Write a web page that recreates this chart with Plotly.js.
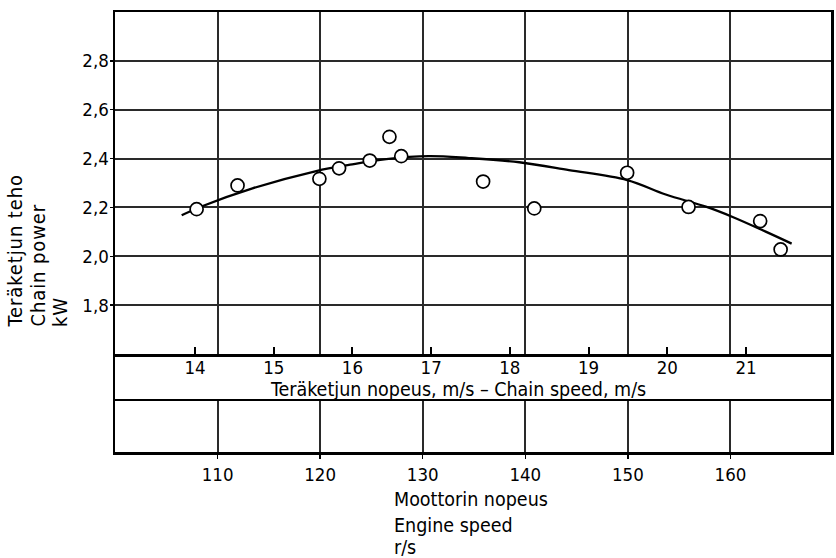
<!DOCTYPE html>
<html>
<head>
<meta charset="utf-8">
<script src="https://cdn.plot.ly/plotly-3.0.1.min.js"></script>
<style>html,body{margin:0;padding:0;background:#fff;}#chart{width:836px;height:558px;}</style>
</head>
<body>
<div id="chart"></div>
<script>
// Measured data points (chain speed m/s, chain power kW)
const pointChainSpeed = [14.02, 14.54, 15.58, 15.83, 16.22, 16.47, 16.62, 17.66, 18.31, 19.49, 20.27, 21.18, 21.44];
const pointPower      = [2.193, 2.290, 2.317, 2.360, 2.392, 2.489, 2.410, 2.306, 2.196, 2.342, 2.202, 2.144, 2.028];

// Fitted curve
const curveChainSpeed = [13.83, 14.09, 14.73, 15.54, 15.97, 16.43, 16.97, 17.48, 18.12, 18.75, 19.49, 19.98, 20.49, 20.83, 21.25, 21.58];
const curvePower      = [2.168, 2.205, 2.278, 2.349, 2.375, 2.398, 2.410, 2.402, 2.385, 2.353, 2.312, 2.253, 2.203, 2.161, 2.101, 2.052];

// Tick definitions
const powerTicks = [1.8, 2.0, 2.2, 2.4, 2.6, 2.8];
const powerTickLabels = ["1,8", "2,0", "2,2", "2,4", "2,6", "2,8"];
const chainTicks = [14, 15, 16, 17, 18, 19, 20, 21];
const engineTicks = [110, 120, 130, 140, 150, 160];

// Axis ranges
const engineRange = [100, 169.8];
const chainRange = [12.983, 22.08];
const powerRange = [1.6, 3.0];

const FONT = "DejaVu Sans Condensed, DejaVu Sans, sans-serif";
const INK = "#000";
const GRID = "#2a2a2a";
const GRID_W = 2;
const TICK_SIZE = 18.5;
const TEXT_SIZE = 19.5;

const traces = [
  {x: [], y: [], xaxis: "x2", yaxis: "y", showlegend: false},
  {x: [], y: [], xaxis: "x", yaxis: "y2", showlegend: false},
  {x: [], y: [], xaxis: "x4", yaxis: "y3", showlegend: false},
  {
    x: curveChainSpeed, y: curvePower, xaxis: "x3", yaxis: "y",
    mode: "lines", line: {color: INK, width: 2.3, shape: "spline", smoothing: 1},
    hoverinfo: "skip", showlegend: false
  },
  {
    x: pointChainSpeed, y: pointPower, xaxis: "x3", yaxis: "y",
    mode: "markers",
    marker: {symbol: "circle", size: 13, color: "#fff", line: {color: INK, width: 1.7}},
    showlegend: false
  }
];

const frame = () => ({showline: true, linecolor: INK, linewidth: 2.5, mirror: true});
const spaced = (t) => '<span style="letter-spacing:0.9px">' + t + '</span>';

const layout = {
  width: 836, height: 558,
  margin: {l: 115, r: 5, t: 12, b: 106},
  paper_bgcolor: "#fff", plot_bgcolor: "#fff",
  font: {family: FONT, size: TEXT_SIZE, color: INK},
  showlegend: false,
  // engine speed axis, bottom band
  xaxis: Object.assign({
    domain: [0, 1], anchor: "y2", range: engineRange,
    tickmode: "array", tickvals: engineTicks,
    showgrid: true, gridcolor: GRID, gridwidth: GRID_W,
    ticks: "outside", ticklen: 4, tickwidth: 1.5, tickcolor: INK,
    zeroline: false, fixedrange: true,
    tickfont: {family: FONT, size: TICK_SIZE, color: INK}
  }, frame()),
  yaxis2: Object.assign({
    domain: [0, 0.1159], anchor: "x", range: [0, 1],
    showgrid: false, showticklabels: false, ticks: "", zeroline: false, fixedrange: true
  }, frame()),
  // middle band (chain speed labels)
  xaxis4: {
    domain: [0, 1], anchor: "y3", range: engineRange,
    showgrid: false, showticklabels: false, ticks: "", showline: false, zeroline: false, fixedrange: true
  },
  yaxis3: Object.assign({
    domain: [0.1159, 0.2227], anchor: "x4", range: [0, 1],
    showgrid: false, showticklabels: false, ticks: "", zeroline: false, fixedrange: true
  }, frame()),
  // top panel, engine speed grid
  xaxis2: Object.assign({
    domain: [0, 1], anchor: "y", range: engineRange,
    tickmode: "array", tickvals: engineTicks,
    showgrid: true, gridcolor: GRID, gridwidth: GRID_W,
    showticklabels: false, ticks: "", zeroline: false, fixedrange: true
  }, frame()),
  // chain speed axis on the top panel
  xaxis3: {
    overlaying: "x2", anchor: "y", side: "bottom", range: chainRange,
    tickmode: "array", tickvals: chainTicks,
    ticks: "inside", ticklen: 7, tickwidth: 2, tickcolor: INK,
    showgrid: false, showline: false, zeroline: false, fixedrange: true,
    tickfont: {family: FONT, size: TICK_SIZE, color: INK}
  },
  yaxis: Object.assign({
    domain: [0.2227, 1], anchor: "x2", range: powerRange,
    tickmode: "array", tickvals: powerTicks, ticktext: powerTickLabels,
    showgrid: true, gridcolor: GRID, gridwidth: GRID_W,
    ticks: "outside", ticklen: 3, tickwidth: 1.5, tickcolor: INK,
    ticklabelstandoff: -3,
    zeroline: false, fixedrange: true,
    tickfont: {family: FONT, size: TICK_SIZE, color: INK}
  }, frame()),
  annotations: [
    {xref: "paper", yref: "paper", x: 0.2137, y: 0.143, xanchor: "left", yanchor: "middle",
     text: "Teräketjun nopeus, m/s – Chain speed, m/s", showarrow: false, font: {size: TEXT_SIZE}},
    {xref: "paper", yref: "paper", x: 0.3869, y: -0.109, xanchor: "left", yanchor: "middle",
     text: "Moottorin nopeus", showarrow: false, font: {size: TEXT_SIZE}},
    {xref: "paper", yref: "paper", x: 0.3869, y: -0.166, xanchor: "left", yanchor: "middle",
     text: "Engine speed", showarrow: false, font: {size: TEXT_SIZE}},
    {xref: "paper", yref: "paper", x: 0.3869, y: -0.218, xanchor: "left", yanchor: "middle",
     text: "r/s", showarrow: false, font: {size: TEXT_SIZE}},
    {xref: "paper", yref: "paper", x: -0.1397, y: 0.2795, xanchor: "center", yanchor: "bottom",
     text: spaced("Teräketjun teho"), textangle: -90, showarrow: false, font: {size: TEXT_SIZE + 0.5}},
    {xref: "paper", yref: "paper", x: -0.1089, y: 0.2795, xanchor: "center", yanchor: "bottom",
     text: spaced("Chain power"), textangle: -90, showarrow: false, font: {size: TEXT_SIZE + 0.5}},
    {xref: "paper", yref: "paper", x: -0.0768, y: 0.2795, xanchor: "center", yanchor: "bottom",
     text: spaced("kW"), textangle: -90, showarrow: false, font: {size: TEXT_SIZE + 0.5}}
  ]
};

Plotly.newPlot("chart", traces, layout, {staticPlot: true, displayModeBar: false});
</script>
</body>
</html>
